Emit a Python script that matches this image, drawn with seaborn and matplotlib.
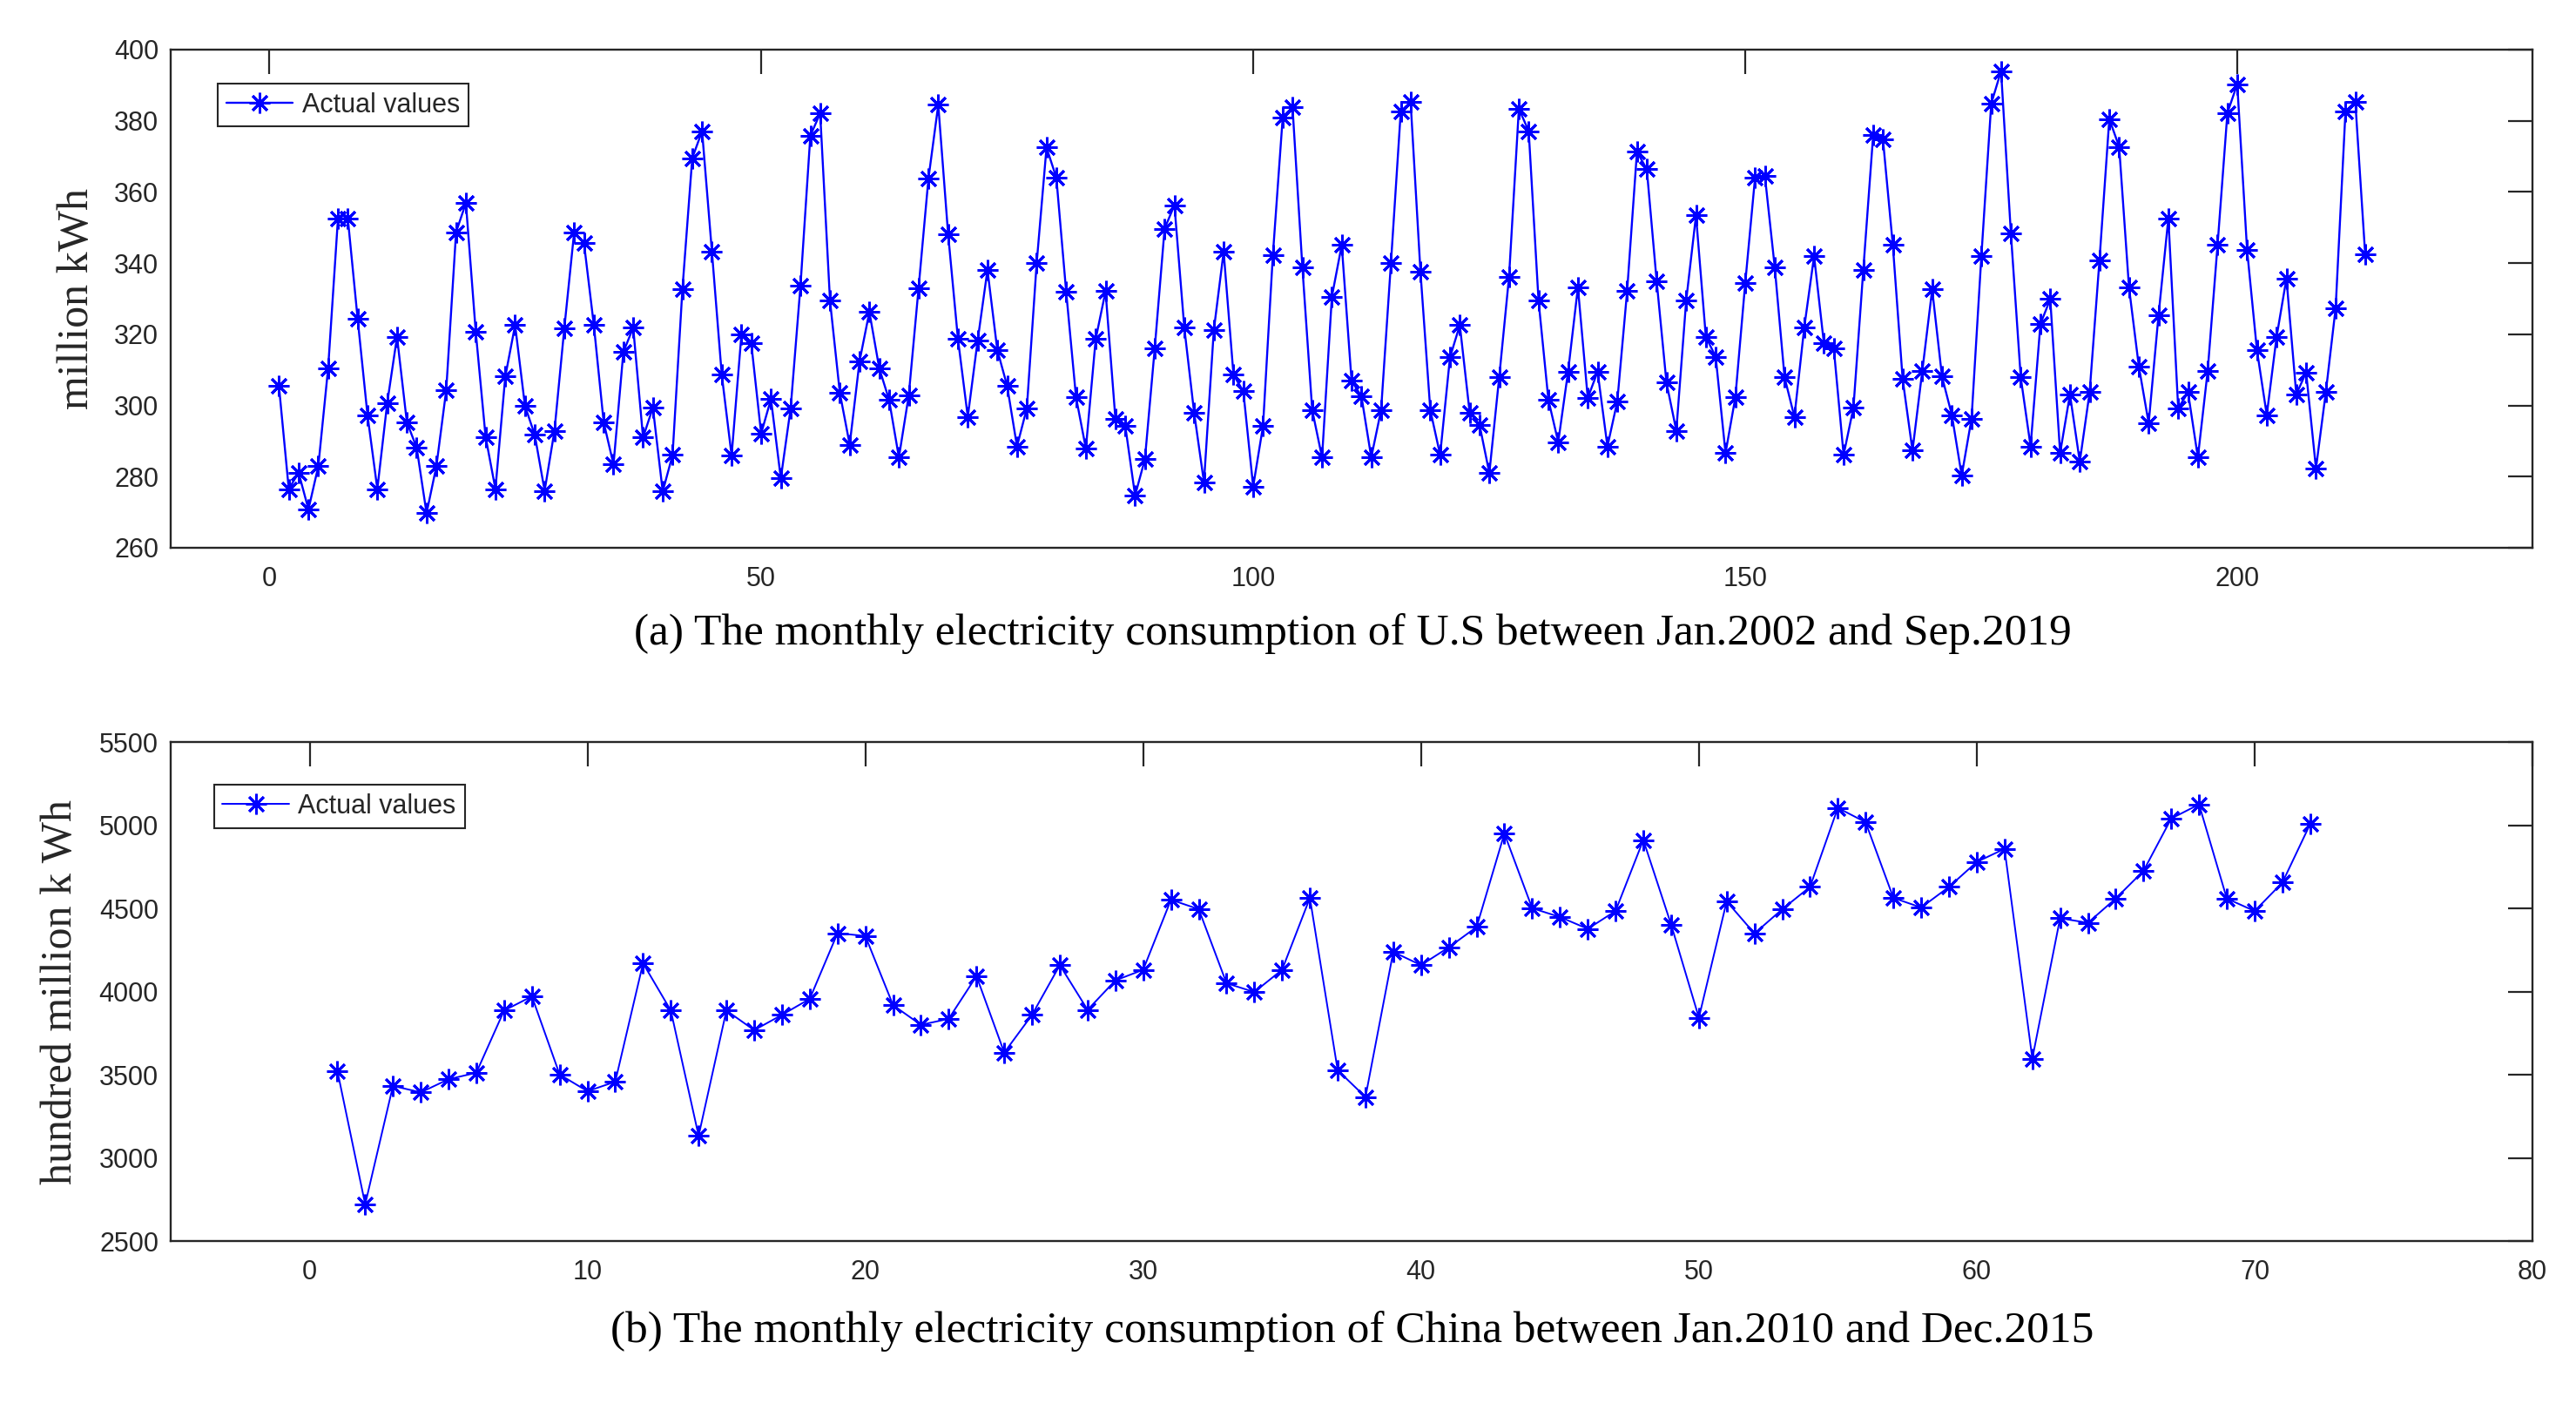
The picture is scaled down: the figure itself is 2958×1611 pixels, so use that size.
import numpy as np
import pandas as pd
import seaborn as sns
import matplotlib.pyplot as plt

sns.set_style('white')
plt.rcParams['font.family'] = ['Liberation Sans', 'DejaVu Sans']

# monthly electricity consumption of U.S, Jan.2002 - Sep.2019 (million kWh)
us_values = [305.5, 276.5, 281.1, 270.8, 282.9, 310.5, 352.6, 352.6, 324.3, 297.3,
             276.5, 300.6, 319.3, 295.3, 288.1, 269.7, 282.9, 304.3, 348.7, 356.9,
             320.7, 291.2, 276.5, 308.1, 322.6, 299.9, 291.7, 276.0, 292.9, 321.7,
             348.7, 345.6, 322.6, 295.3, 283.4, 315.0, 321.9, 291.0, 299.4, 275.8,
             286.1, 332.6, 369.5, 377.1, 343.2, 308.6, 285.9, 320.0, 317.4, 292.1,
             301.8, 279.5, 299.2, 333.7, 375.8, 382.1, 329.4, 303.5, 289.0, 312.4,
             326.3, 310.5, 301.6, 285.4, 302.8, 333.0, 363.7, 384.5, 348.2, 318.7,
             296.8, 318.2, 338.1, 315.6, 305.5, 288.5, 299.2, 340.0, 372.5, 364.0,
             331.9, 302.3, 287.9, 318.7, 332.1, 296.3, 294.3, 274.7, 284.9, 316.1,
             349.7, 356.3, 321.9, 298.0, 278.4, 321.1, 343.2, 308.6, 304.0, 277.2,
             294.2, 342.2, 380.9, 383.8, 338.9, 298.7, 285.4, 330.6, 345.1, 306.9,
             302.6, 285.4, 298.7, 340.0, 382.7, 385.3, 337.6, 298.7, 286.1, 313.5,
             322.6, 298.0, 294.6, 281.0, 307.9, 336.1, 383.4, 377.1, 329.4, 301.6,
             289.7, 309.5, 333.2, 302.1, 309.5, 288.5, 301.1, 332.1, 371.3, 366.4,
             335.0, 306.4, 292.9, 329.4, 353.4, 319.3, 313.7, 286.6, 302.3, 334.3,
             364.0, 364.5, 338.9, 307.9, 296.8, 321.9, 342.0, 317.4, 316.1, 286.1,
             299.4, 338.1, 375.9, 374.7, 345.1, 307.4, 287.3, 309.8, 332.6, 308.1,
             297.3, 280.3, 296.3, 342.0, 384.8, 394.0, 348.3, 307.9, 288.5, 322.9,
             329.9, 286.6, 303.1, 284.2, 303.7, 340.8, 380.5, 372.7, 333.2, 311.0,
             295.0, 325.3, 352.6, 299.2, 303.7, 285.4, 309.8, 345.1, 382.2, 390.3,
             343.7, 315.6, 297.3, 319.3, 335.7, 303.1, 309.3, 282.3, 303.7, 327.4,
             382.7, 385.3, 342.5]

# monthly electricity consumption of China, Jan.2010 - Dec.2015 (hundred million kWh)
china_values = [3524, 2722, 3434, 3395, 3474, 3513, 3887, 3972, 3502, 3402,
                3459, 4171, 3887, 3134, 3887, 3769, 3861, 3957, 4352, 4335,
                3919, 3801, 3837, 4094, 3634, 3861, 4160, 3891, 4068, 4132,
                4553, 4496, 4051, 3998, 4132, 4564, 3528, 3367, 4239, 4160,
                4267, 4389, 4951, 4502, 4449, 4378, 4485, 4912, 4404, 3844,
                4543, 4350, 4496, 4630, 5105, 5019, 4564, 4506, 4630, 4780,
                4859, 3598, 4442, 4414, 4560, 4726, 5041, 5126, 4560, 4485,
                4656, 5008]

us_months = list(range(1, len(us_values) + 1))
china_months = list(range(1, len(china_values) + 1))

us_ticks_x = [0, 50, 100, 150, 200]
us_ticks_y = [260, 280, 300, 320, 340, 360, 380, 400]
china_ticks_x = [0, 10, 20, 30, 40, 50, 60, 70, 80]
china_ticks_y = [2500, 3000, 3500, 4000, 4500, 5000, 5500]

df_us = pd.DataFrame({'Month': us_months, 'Value': us_values})
df_china = pd.DataFrame({'Month': china_months, 'Value': china_values})

dark = '#262626'
star = (8, 2, 0)

fig = plt.figure(figsize=(29.58, 16.11), dpi=100)
ax1 = fig.add_axes([0.06626, 0.60956, 0.91684, 0.35506])
ax2 = fig.add_axes([0.06626, 0.11527, 0.91684, 0.35574])

sns.lineplot(data=df_us, x='Month', y='Value', ax=ax1, color='blue',
             marker=star, markersize=17, markeredgewidth=2.1,
             markeredgecolor='blue', linewidth=1.7, label='Actual values')
sns.lineplot(data=df_china, x='Month', y='Value', ax=ax2, color='blue',
             marker=star, markersize=17, markeredgewidth=2.0,
             markeredgecolor='blue', linewidth=1.4, label='Actual values')

# axes look like matlab: box on, ticks inside
for ax in [ax1, ax2]:
    for s in ax.spines.values():
        s.set_visible(True)
        s.set_linewidth(1.7)
        s.set_color(dark)
    ax.tick_params(direction='in', top=True, right=True, length=20.5,
                   width=1.6, color=dark, labelcolor=dark, labelsize=22)
    ax.tick_params(axis='x', pad=15)
    ax.tick_params(axis='y', pad=10)
    ax.set_xlabel('')

ax1.set_xlim(-10, 230)
ax1.set_ylim(260, 400)
ax1.set_xticks(us_ticks_x)
ax1.set_yticks(us_ticks_y)
ax1.set_ylabel('million kWh', family='Liberation Serif', fontsize=36, va='center')
ax1.yaxis.set_label_coords(-0.0395, 0.5)

ax2.set_xlim(-5, 80)
ax2.set_ylim(2500, 5500)
ax2.set_xticks(china_ticks_x)
ax2.set_yticks(china_ticks_y)
ax2.set_ylabel('hundred million k Wh', family='Liberation Serif', fontsize=36, va='center')
ax2.yaxis.set_label_coords(-0.0465, 0.5)

leg1 = ax1.legend(loc='upper left', bbox_to_anchor=(0.0199, 0.932), borderaxespad=0,
                  fancybox=False, edgecolor=dark, fontsize=22, handlelength=2.5,
                  handletextpad=0.35, borderpad=0.32, framealpha=1)
leg2 = ax2.legend(loc='upper left', bbox_to_anchor=(0.0183, 0.9145), borderaxespad=0,
                  fancybox=False, edgecolor=dark, fontsize=22, handlelength=2.5,
                  handletextpad=0.35, borderpad=0.32, framealpha=1)
for leg in [leg1, leg2]:
    leg.get_frame().set_linewidth(1.5)

fig.text(0.525, 0.5487, '(a) The monthly electricity consumption of U.S between Jan.2002 and Sep.2019',
         ha='center', va='center', family='Liberation Serif', fontsize=37, color='black')
fig.text(0.525, 0.0515, '(b) The monthly electricity consumption of China between Jan.2010 and Dec.2015',
         ha='center', va='center', family='Liberation Serif', fontsize=37, color='black')

fig.savefig('out.png', dpi=100, facecolor='white')
